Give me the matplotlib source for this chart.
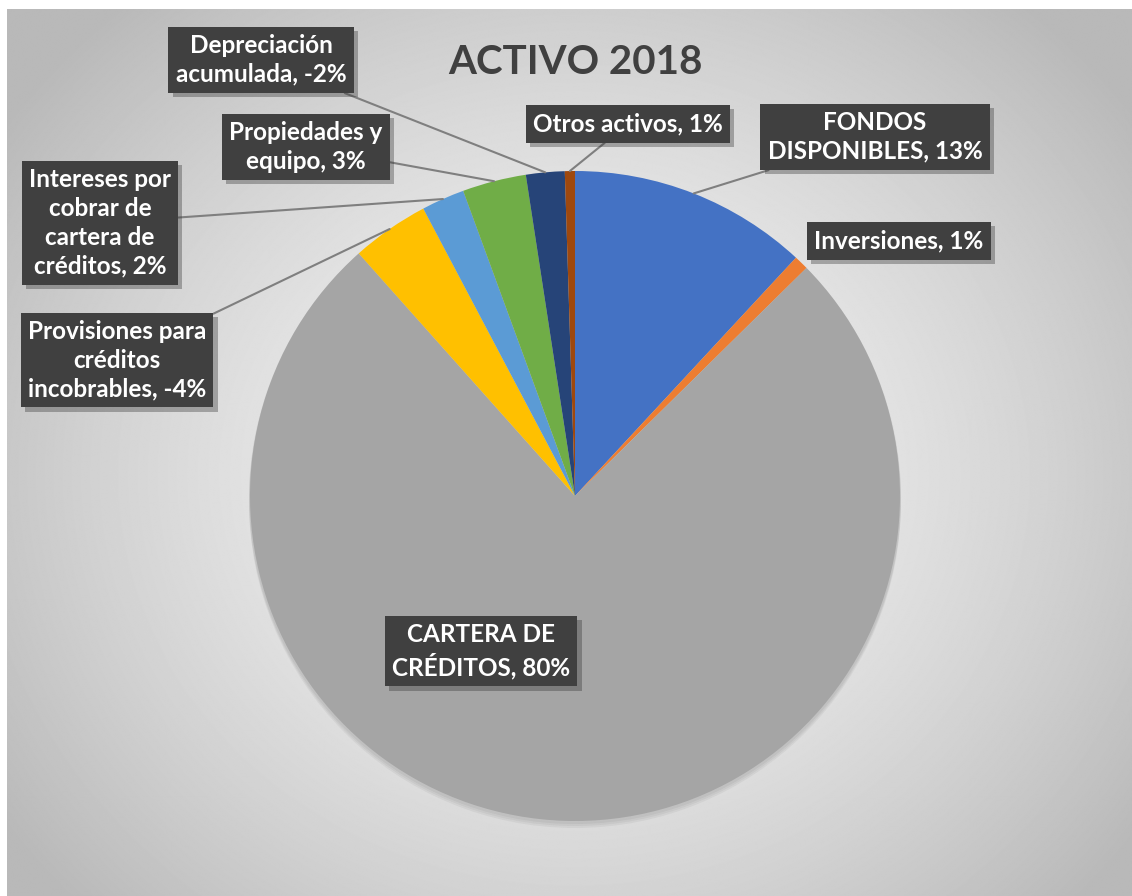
import numpy as np
import matplotlib.pyplot as plt
import matplotlib.patheffects as pe
from matplotlib.patches import Circle

plt.rcParams['font.family'] = ['Lato', 'DejaVu Sans']

# datos del grafico
categorias = ["FONDOS\nDISPONIBLES", "Inversiones", "CARTERA DE\nCRÉDITOS",
              "Provisiones para\ncréditos\nincobrables",
              "Intereses por\ncobrar de\ncartera de\ncréditos",
              "Propiedades y\nequipo", "Depreciación\nacumulada", "Otros activos"]
valores = [11.9, 0.72, 75.8, -3.86, 2.14, 3.17, -1.92, 0.5]
porcentajes = [13, 1, 80, -4, 2, 3, -2, 1]
colores = ["#4472C4", "#ED7D31", "#A5A5A5", "#FFC000", "#5B9BD5", "#70AD47", "#264478", "#9E480E"]

# posicion de las etiquetas (pixeles, desde arriba) y si llevan linea guia
pos_etiquetas = [(875, 137), (899, 241), (481, 651), (117, 360),
                 (100, 223), (306, 147), (261, 60), (628, 124)]
con_linea = [True, False, False, True, True, True, True, True]

W, H = 1132, 896
cx, cy, r = 575, H - 496, 325

fig = plt.figure(figsize=(W / 100, H / 100), dpi=100)
ax = fig.add_axes([0, 0, 1, 1])

# fondo con degradado radial
yy, xx = np.mgrid[0:H, 0:W]
d = np.sqrt(((xx - 570) / 620.0) ** 2 + ((yy - 470) / 560.0) ** 2)
gris = np.clip(244 - 50 * d ** 1.5, 185, 245) / 255.0
ax.imshow(gris, cmap='gray', vmin=0, vmax=1, extent=[7, W, 0, H - 9],
          origin='upper', zorder=0)

# sombra suave debajo del pastel
for i, a in enumerate([0.08, 0.08, 0.08]):
    ax.add_patch(Circle((cx, cy - 2 - 2 * i), r + 1, fc='#606060', ec='none', alpha=a, zorder=1))

wedges, _ = ax.pie(np.abs(valores), colors=colores, startangle=90, counterclock=False,
                   center=(cx, cy), radius=r, wedgeprops=dict(linewidth=0))
for w in wedges:
    w.set_zorder(2)

ax.set_xlim(0, W)
ax.set_ylim(0, H)
ax.axis('off')
fig.patch.set_facecolor('white')

ax.text(575, H - 62, "ACTIVO 2018", ha='center', va='center', fontsize=29,
        fontweight='bold', color='#404040', zorder=5)

caja = dict(boxstyle='square,pad=0.3', fc='#404040', ec='none')
for w, cat, p, (px, py), linea in zip(wedges, categorias, porcentajes, pos_etiquetas, con_linea):
    texto = f"{cat}, {p}%"
    ang = np.deg2rad((w.theta1 + w.theta2) / 2)
    borde = (cx + r * np.cos(ang), cy + r * np.sin(ang))
    props = None
    if linea:
        props = dict(arrowstyle='-', color='#7f7f7f', lw=1.5, shrinkA=0, shrinkB=0)
    an = ax.annotate(texto, xy=borde, xytext=(px, H - py), ha='center', va='center',
                     multialignment='center', fontsize=17.5, fontweight='bold', color='white',
                     linespacing=1.3, bbox=caja, arrowprops=props, zorder=6)
    an.get_bbox_patch().set_path_effects([
        pe.SimplePatchShadow(offset=(3, -3), shadow_rgbFace='#303030', alpha=0.35),
        pe.Normal()])

fig.savefig("out.png", dpi=100)
